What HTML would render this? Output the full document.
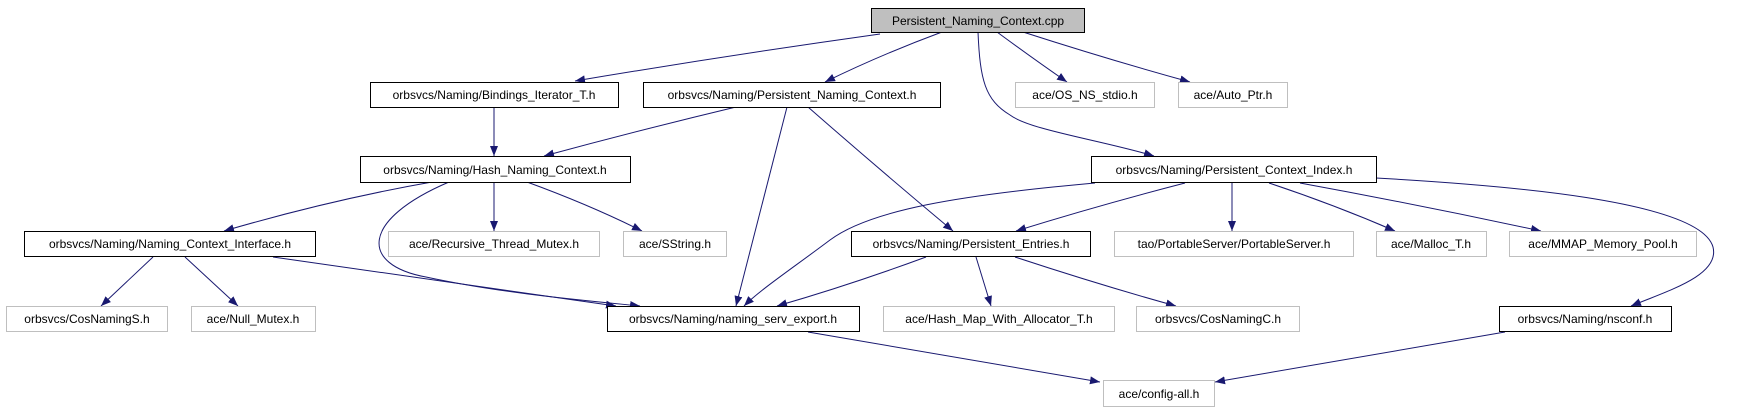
<!DOCTYPE html>
<html><head><meta charset="utf-8"><style>html,body{margin:0;padding:0;background:#fff}svg{display:block}</style></head>
<body>
<svg width="1751" height="411" viewBox="0 0 1751 411" xmlns="http://www.w3.org/2000/svg" font-family="Liberation Sans, sans-serif" font-size="12">
<defs><marker id="a" viewBox="0 0 10 10" refX="10" refY="5" markerWidth="10" markerHeight="10" markerUnits="userSpaceOnUse" orient="auto"><path d="M0,1 L10,5 L0,9 z" fill="#191970"/></marker></defs>
<g fill="none" stroke="#191970" stroke-width="1" marker-end="url(#a)">
<path d="M880,34 Q730,55 575,81"/>
<path d="M942,32 Q880,55 825,82"/>
<path d="M997,32 Q1035,60 1067,82"/>
<path d="M1023,32 Q1110,60 1190,82"/>
<path d="M978,32 C980,80 985,100 1010,115 C1030,130 1100,140 1154,156"/>
<path d="M494,107 L494,156"/>
<path d="M736,107 Q640,130 544,156"/>
<path d="M787,107 L736,306"/>
<path d="M808,107 Q880,170 953,231"/>
<path d="M432,182 Q330,200 224,231"/>
<path d="M494,182 L494,231"/>
<path d="M527,182 Q590,205 642,231"/>
<path d="M449,182 C360,220 360,265 426,277 C500,293 580,300 640,306"/>
<path d="M153,257 L101,306"/>
<path d="M185,257 L238,306"/>
<path d="M273,257 L616,306"/>
<path d="M1095,183 C960,195 870,210 830,240 C790,270 760,290 744,306"/>
<path d="M1185,183 Q1100,205 1016,231"/>
<path d="M1232,183 L1232,231"/>
<path d="M1269,183 Q1335,205 1395,231"/>
<path d="M1300,183 Q1420,205 1541,231"/>
<path d="M1376,178 C1500,185 1700,200 1713,247 C1720,275 1670,290 1631,306"/>
<path d="M926,257 Q850,285 777,306"/>
<path d="M976,257 L991,306"/>
<path d="M1015,257 Q1100,285 1176,306"/>
<path d="M808,332 L1100,382"/>
<path d="M1505,332 L1215,382"/>
</g>
<g stroke-width="1" text-anchor="middle">
<rect x="871.5" y="8.5" width="213" height="24" fill="#bfbfbf" stroke="#000"/><text x="978" y="25" fill="#000">Persistent_Naming_Context.cpp</text>
<rect x="370.5" y="82.5" width="248" height="25" fill="#fff" stroke="#000"/><text x="494" y="99">orbsvcs/Naming/Bindings_Iterator_T.h</text>
<rect x="643.5" y="82.5" width="297" height="25" fill="#fff" stroke="#000"/><text x="792" y="99">orbsvcs/Naming/Persistent_Naming_Context.h</text>
<rect x="1015.5" y="82.5" width="139" height="25" fill="#fff" stroke="#bfbfbf"/><text x="1085" y="99">ace/OS_NS_stdio.h</text>
<rect x="1178.5" y="82.5" width="109" height="25" fill="#fff" stroke="#bfbfbf"/><text x="1233" y="99">ace/Auto_Ptr.h</text>
<rect x="360.5" y="156.5" width="270" height="26" fill="#fff" stroke="#000"/><text x="495" y="174">orbsvcs/Naming/Hash_Naming_Context.h</text>
<rect x="1091.5" y="156.5" width="285" height="26" fill="#fff" stroke="#000"/><text x="1234" y="174">orbsvcs/Naming/Persistent_Context_Index.h</text>
<rect x="24.5" y="231.5" width="291" height="25" fill="#fff" stroke="#000"/><text x="170" y="248">orbsvcs/Naming/Naming_Context_Interface.h</text>
<rect x="388.5" y="231.5" width="211" height="25" fill="#fff" stroke="#bfbfbf"/><text x="494" y="248">ace/Recursive_Thread_Mutex.h</text>
<rect x="623.5" y="231.5" width="103" height="25" fill="#fff" stroke="#bfbfbf"/><text x="675" y="248">ace/SString.h</text>
<rect x="851.5" y="231.5" width="239" height="25" fill="#fff" stroke="#000"/><text x="971" y="248">orbsvcs/Naming/Persistent_Entries.h</text>
<rect x="1114.5" y="231.5" width="239" height="25" fill="#fff" stroke="#bfbfbf"/><text x="1234" y="248">tao/PortableServer/PortableServer.h</text>
<rect x="1376.5" y="231.5" width="110" height="25" fill="#fff" stroke="#bfbfbf"/><text x="1431" y="248">ace/Malloc_T.h</text>
<rect x="1509.5" y="231.5" width="187" height="25" fill="#fff" stroke="#bfbfbf"/><text x="1603" y="248">ace/MMAP_Memory_Pool.h</text>
<rect x="6.5" y="306.5" width="161" height="25" fill="#fff" stroke="#bfbfbf"/><text x="87" y="323">orbsvcs/CosNamingS.h</text>
<rect x="191.5" y="306.5" width="124" height="25" fill="#fff" stroke="#bfbfbf"/><text x="253" y="323">ace/Null_Mutex.h</text>
<rect x="607.5" y="306.5" width="252" height="25" fill="#fff" stroke="#000"/><text x="733" y="323">orbsvcs/Naming/naming_serv_export.h</text>
<rect x="883.5" y="306.5" width="231" height="25" fill="#fff" stroke="#bfbfbf"/><text x="999" y="323">ace/Hash_Map_With_Allocator_T.h</text>
<rect x="1136.5" y="306.5" width="163" height="25" fill="#fff" stroke="#bfbfbf"/><text x="1218" y="323">orbsvcs/CosNamingC.h</text>
<rect x="1499.5" y="306.5" width="172" height="25" fill="#fff" stroke="#000"/><text x="1585" y="323">orbsvcs/Naming/nsconf.h</text>
<rect x="1103.5" y="380.5" width="111" height="26" fill="#fff" stroke="#bfbfbf"/><text x="1159" y="398">ace/config-all.h</text>
</g>
</svg>
</body></html>
